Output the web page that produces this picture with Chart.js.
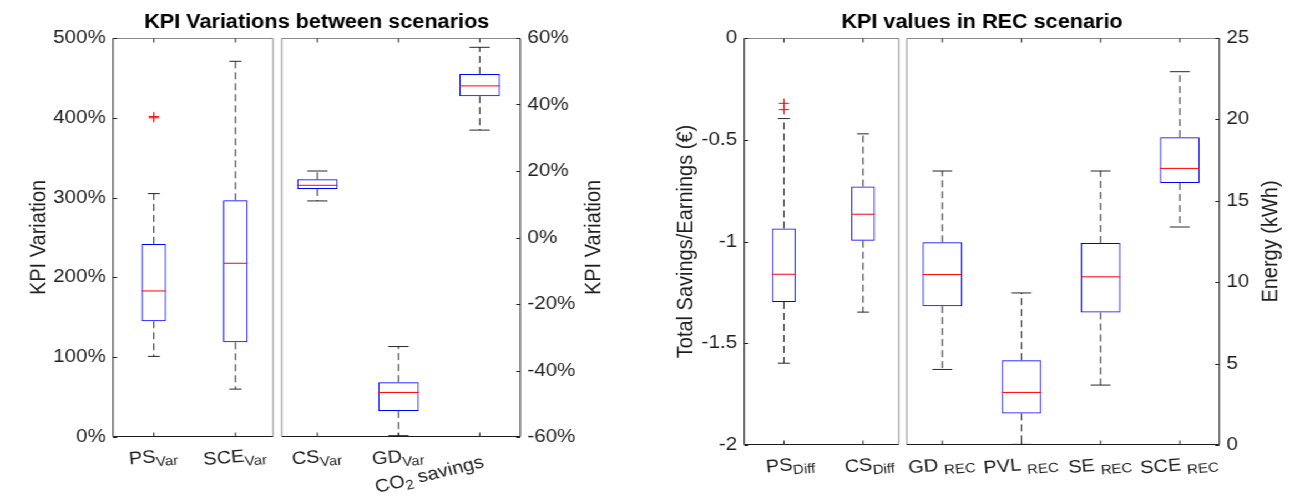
<!DOCTYPE html>
<html>
<head>
<meta charset="utf-8">
<script src="https://cdn.jsdelivr.net/npm/chart.js@4.4.0/dist/chart.umd.min.js"></script>
<style>
  html, body { margin: 0; padding: 0; background: #fff; overflow: hidden; }
  /* the reference figure is a little stretched sideways, so draw narrow and stretch */
  #wrap { position: absolute; left: 0; top: 0; width: 1167px; height: 503px;
          transform: scaleX(1.1097); transform-origin: 0 0; }
  #wrap canvas { position: absolute; left: 0; top: 0; }
</style>
</head>
<body>
<div id="wrap">
  <canvas id="c1" width="1167" height="503"></canvas>
  <canvas id="c2" width="1167" height="503"></canvas>
  <canvas id="c3" width="1167" height="503"></canvas>
  <canvas id="c4" width="1167" height="503"></canvas>
</div>
<script>
// ---- left figure, left axes (KPI variation, %) ----
const p1Labels = [['PS', 'Var'], ['SCE', 'Var']];
const p1Lo  = [101, 60];
const p1Q1  = [145, 118.7];
const p1Med = [183, 217.7];
const p1Q3  = [242, 296.6];
const p1Hi  = [305, 470.8];
const p1Out = [[400, 401.5], []];
const p1YTicks = [0, 100, 200, 300, 400, 500];

// ---- left figure, right axes (KPI variation, %) ----
const p2Labels = [['CS', 'Var'], ['GD', 'Var'], ['CO', '2', ' savings']];
const p2Lo  = [11, -59.6, 32.3];
const p2Q1  = [14.6, -52.2, 42.5];
const p2Med = [15.7, -46.6, 45.6];
const p2Q3  = [17.5, -43.5, 49.2];
const p2Hi  = [20, -32.8, 57.2];
const p2Out = [[], [], []];
const p2YTicks = [-60, -40, -20, 0, 20, 40, 60];

// ---- right figure, left axes (savings / earnings, EUR) ----
const p3Labels = [['PS', 'Diff'], ['CS', 'Diff']];
const p3Lo  = [-1.598, -1.347];
const p3Q1  = [-1.297, -0.996];
const p3Med = [-1.161, -0.866];
const p3Q3  = [-0.936, -0.730];
const p3Hi  = [-0.396, -0.471];
const p3Out = [[-0.321, -0.352], []];
const p3YTicks = [-2, -1.5, -1, -0.5, 0];

// ---- right figure, right axes (energy, kWh) ----
const p4Labels = [['GD ', 'REC'], ['PVL ', 'REC'], ['SE ', 'REC'], ['SCE ', 'REC']];
const p4Lo  = [4.64, 0.04, 3.68, 13.39];
const p4Q1  = [8.53, 1.94, 8.14, 16.09];
const p4Med = [10.47, 3.23, 10.33, 16.99];
const p4Q3  = [12.45, 5.21, 12.41, 18.91];
const p4Hi  = [16.83, 9.34, 16.83, 22.93];
const p4Out = [[], [], [], []];
const p4YTicks = [0, 5, 10, 15, 20, 25];

const W = 1167, H = 503;
const SX = 1295 / W;          // horizontal stretch of the wrapper
const FONT = "'Liberation Sans', Arial, Helvetica, sans-serif";
const INK = '#1e1e1e';
const WHISKER = 'rgba(0,0,0,0.85)';

// per-canvas decoration: titles and label placement (x in reference px)
const decor = {
  c1: { axis: 'left', labels: p1Labels,
        title: { text: 'KPI Variations between scenarios', x: 316.7, y: 28.3 },
        yTitle: { text: 'KPI Variation', x: 45 } },
  c2: { axis: 'right', labels: p2Labels,
        special: { index: 2, x: 431, y: 480, angle: -15 },
        yTitle: { text: 'KPI Variation', x: 600.7 } },
  c3: { axis: 'left', labels: p3Labels, shift: 7,
        title: { text: 'KPI values in REC scenario', x: 982, y: 28.3 },
        yTitle: { text: 'Total Savings/Earnings (€)', x: 692.4 } },
  c4: { axis: 'right', labels: p4Labels,
        yTitle: { text: 'Energy (kWh)', x: 1277.4 } }
};

// frame, inward ticks, category labels and titles
const boxDecor = {
  id: 'boxDecor',
  afterDraw(chart) {
    const o = decor[chart.canvas.id];
    const { ctx, chartArea: a } = chart;
    const xs = chart.scales.x, ys = chart.scales.y;
    const line = (x1, y1, x2, y2, c) => {
      ctx.strokeStyle = c; ctx.beginPath(); ctx.moveTo(x1, y1); ctx.lineTo(x2, y2); ctx.stroke();
    };
    ctx.save();
    ctx.lineWidth = 1;
    const top = Math.round(a.top) + 0.5, bot = Math.round(a.bottom) - 0.5;
    const yA = o.axis === 'left' ? a.left : a.right;
    const yB = o.axis === 'left' ? a.right : a.left;
    line(a.left, top, a.right, top, '#8a8a8a');
    line(yB, top, yB, bot, '#8a8a8a');
    line(a.left, bot, a.right, bot, INK);
    line(yA, top, yA, bot, INK);

    const dir = o.axis === 'left' ? 1 : -1;
    ys.ticks.forEach(t => {
      const py = Math.round(ys.getPixelForValue(t.value)) + 0.5;
      line(yA, py, yA + dir * 4 / SX, py, INK);
    });
    xs.ticks.forEach(t => {
      const px = xs.getPixelForValue(t.value);
      line(px, bot, px, bot - 4, INK);
      line(px, top, px, top + 4, INK);
    });

    // category labels with subscripts, slightly rotated
    ctx.fillStyle = INK;
    ctx.textBaseline = 'alphabetic';
    ctx.textAlign = 'left';
    o.labels.forEach((parts, i) => {
      const sp = o.special && o.special.index === i ? o.special : null;
      const cx = sp ? sp.x / SX : xs.getPixelForValue(i + 1) + (o.shift || 0) / SX;
      const cy = sp ? sp.y : a.bottom + 25.5;
      const ang = (sp ? sp.angle : -5) * Math.PI / 180;
      const [main, sub, tail] = parts;
      ctx.save();
      ctx.translate(cx, cy);
      ctx.rotate(ang);
      ctx.font = '18px ' + FONT;
      const w1 = ctx.measureText(main).width;
      const w3 = tail ? ctx.measureText(tail).width : 0;
      ctx.font = '13.5px ' + FONT;
      const w2 = ctx.measureText(sub).width;
      const x0 = -(w1 + w2 + w3) / 2;
      ctx.font = '18px ' + FONT;
      ctx.fillText(main, x0, 0);
      ctx.font = '13.5px ' + FONT;
      ctx.fillText(sub, x0 + w1, 4);
      if (tail) {
        ctx.font = '18px ' + FONT;
        ctx.fillText(tail, x0 + w1 + w2, 0);
      }
      ctx.restore();
    });

    // axis title, reading bottom to top
    if (o.yTitle) {
      ctx.save();
      ctx.translate(o.yTitle.x / SX, (a.top + a.bottom) / 2);
      ctx.rotate(-Math.PI / 2);
      ctx.textAlign = 'center';
      ctx.font = '20px ' + FONT;
      ctx.fillText(o.yTitle.text, 0, 0);
      ctx.restore();
    }
    if (o.title) {
      ctx.textAlign = 'center';
      ctx.font = 'bold 19.5px ' + FONT;
      ctx.fillStyle = '#000';
      ctx.fillText(o.title.text, o.title.x / SX, o.title.y);
    }
    ctx.restore();
  }
};

function boxPanel(id, P, labels, lo, q1, med, q3, hi, out, yTicks, yFmt) {
  const cats = labels.map((_, i) => i + 1);
  const whisk = [];
  cats.forEach((x, i) => {
    whisk.push({ x, y: q3[i] }, { x, y: hi[i] }, { x, y: null },
               { x, y: q1[i] }, { x, y: lo[i] }, { x, y: null });
  });
  const caps = [];
  cats.forEach((x, i) => caps.push({ x, y: hi[i] }, { x, y: lo[i] }));
  const outliers = [];
  out.forEach((vals, i) => vals.forEach(v => outliers.push({ x: i + 1, y: v })));

  // box half width in pixels, from the x scale
  const half = (c, f) => {
    const s = c.chart.scales.x;
    return Math.abs(s.getPixelForValue(1 + P.boxW * f) - s.getPixelForValue(1));
  };
  const left = P.l / SX, right = P.r / SX;
  const padding = P.axis === 'left'
    ? { left: 0, right: W - right, top: P.t, bottom: H - P.b }
    : { left: left, right: 0, top: P.t, bottom: H - P.b };
  const yWidth = P.axis === 'left' ? left : W - right;

  return new Chart(document.getElementById(id), {
    type: 'bar',
    data: {
      datasets: [
        { type: 'line', data: whisk, borderColor: WHISKER, borderWidth: 1, borderDash: [7, 4],
          pointRadius: 0, spanGaps: false, order: 5 },
        { type: 'bar', data: cats.map((x, i) => ({ x, y: [q1[i], q3[i]] })),
          backgroundColor: 'rgba(0,0,0,0)', borderColor: '#0000ff', borderWidth: 1,
          borderSkipped: false, barPercentage: P.boxW, categoryPercentage: 1, order: 4 },
        { type: 'scatter', data: caps, pointStyle: 'line', pointRadius: c => half(c, 0.25),
          borderColor: WHISKER, borderWidth: 1, order: 3 },
        { type: 'scatter', data: cats.map((x, i) => ({ x, y: med[i] })), pointStyle: 'line',
          pointRadius: c => half(c, 0.5), borderColor: '#ff0000', borderWidth: 1, order: 2 },
        { type: 'scatter', data: outliers, pointStyle: 'cross', pointRadius: 4.7,
          borderColor: '#ff0000', borderWidth: 1, order: 1 }
      ]
    },
    options: {
      responsive: false,
      devicePixelRatio: 1,
      animation: false,
      events: [],
      layout: { padding },
      plugins: { legend: { display: false }, tooltip: { enabled: false } },
      scales: {
        x: {
          type: 'linear', min: P.xmin, max: P.xmax, offset: false,
          grid: { display: false, drawTicks: false, offset: false }, border: { display: false },
          ticks: { display: false },
          afterBuildTicks: s => { s.ticks = cats.map(v => ({ value: v })); },
          afterFit: s => { s.height = 0; }
        },
        y: {
          type: 'linear', position: P.axis, min: P.ymin, max: P.ymax,
          grid: { display: false, drawTicks: false }, border: { display: false },
          ticks: { padding: 6.5, color: INK, font: { family: FONT, size: 18.5 }, callback: yFmt },
          afterBuildTicks: s => { s.ticks = yTicks.map(v => ({ value: v })); },
          afterFit: s => { s.width = yWidth; }
        }
      }
    },
    plugins: [boxDecor]
  });
}

const pct = v => v + '%';
const num = v => String(v);

boxPanel('c1', { l: 113, r: 273, t: 38, b: 437, xmin: 0.5, xmax: 2.46, ymin: 0, ymax: 500, axis: 'left', boxW: 0.3 },
  p1Labels, p1Lo, p1Q1, p1Med, p1Q3, p1Hi, p1Out, p1YTicks, pct);

boxPanel('c2', { l: 281.7, r: 520.3, t: 38, b: 437, xmin: 0.56, xmax: 3.5, ymin: -60, ymax: 60, axis: 'right', boxW: 0.5 },
  p2Labels, p2Lo, p2Q1, p2Med, p2Q3, p2Hi, p2Out, p2YTicks, pct);

boxPanel('c3', { l: 744.3, r: 898.7, t: 38, b: 445, xmin: 0.5, xmax: 2.45, ymin: -2, ymax: 0, axis: 'left', boxW: 0.3 },
  p3Labels, p3Lo, p3Q1, p3Med, p3Q3, p3Hi, p3Out, p3YTicks, num);

boxPanel('c4', { l: 906.7, r: 1219.3, t: 38, b: 445, xmin: 0.55, xmax: 4.5, ymin: 0, ymax: 25, axis: 'right', boxW: 0.5 },
  p4Labels, p4Lo, p4Q1, p4Med, p4Q3, p4Hi, p4Out, p4YTicks, num);
</script>
</body>
</html>
